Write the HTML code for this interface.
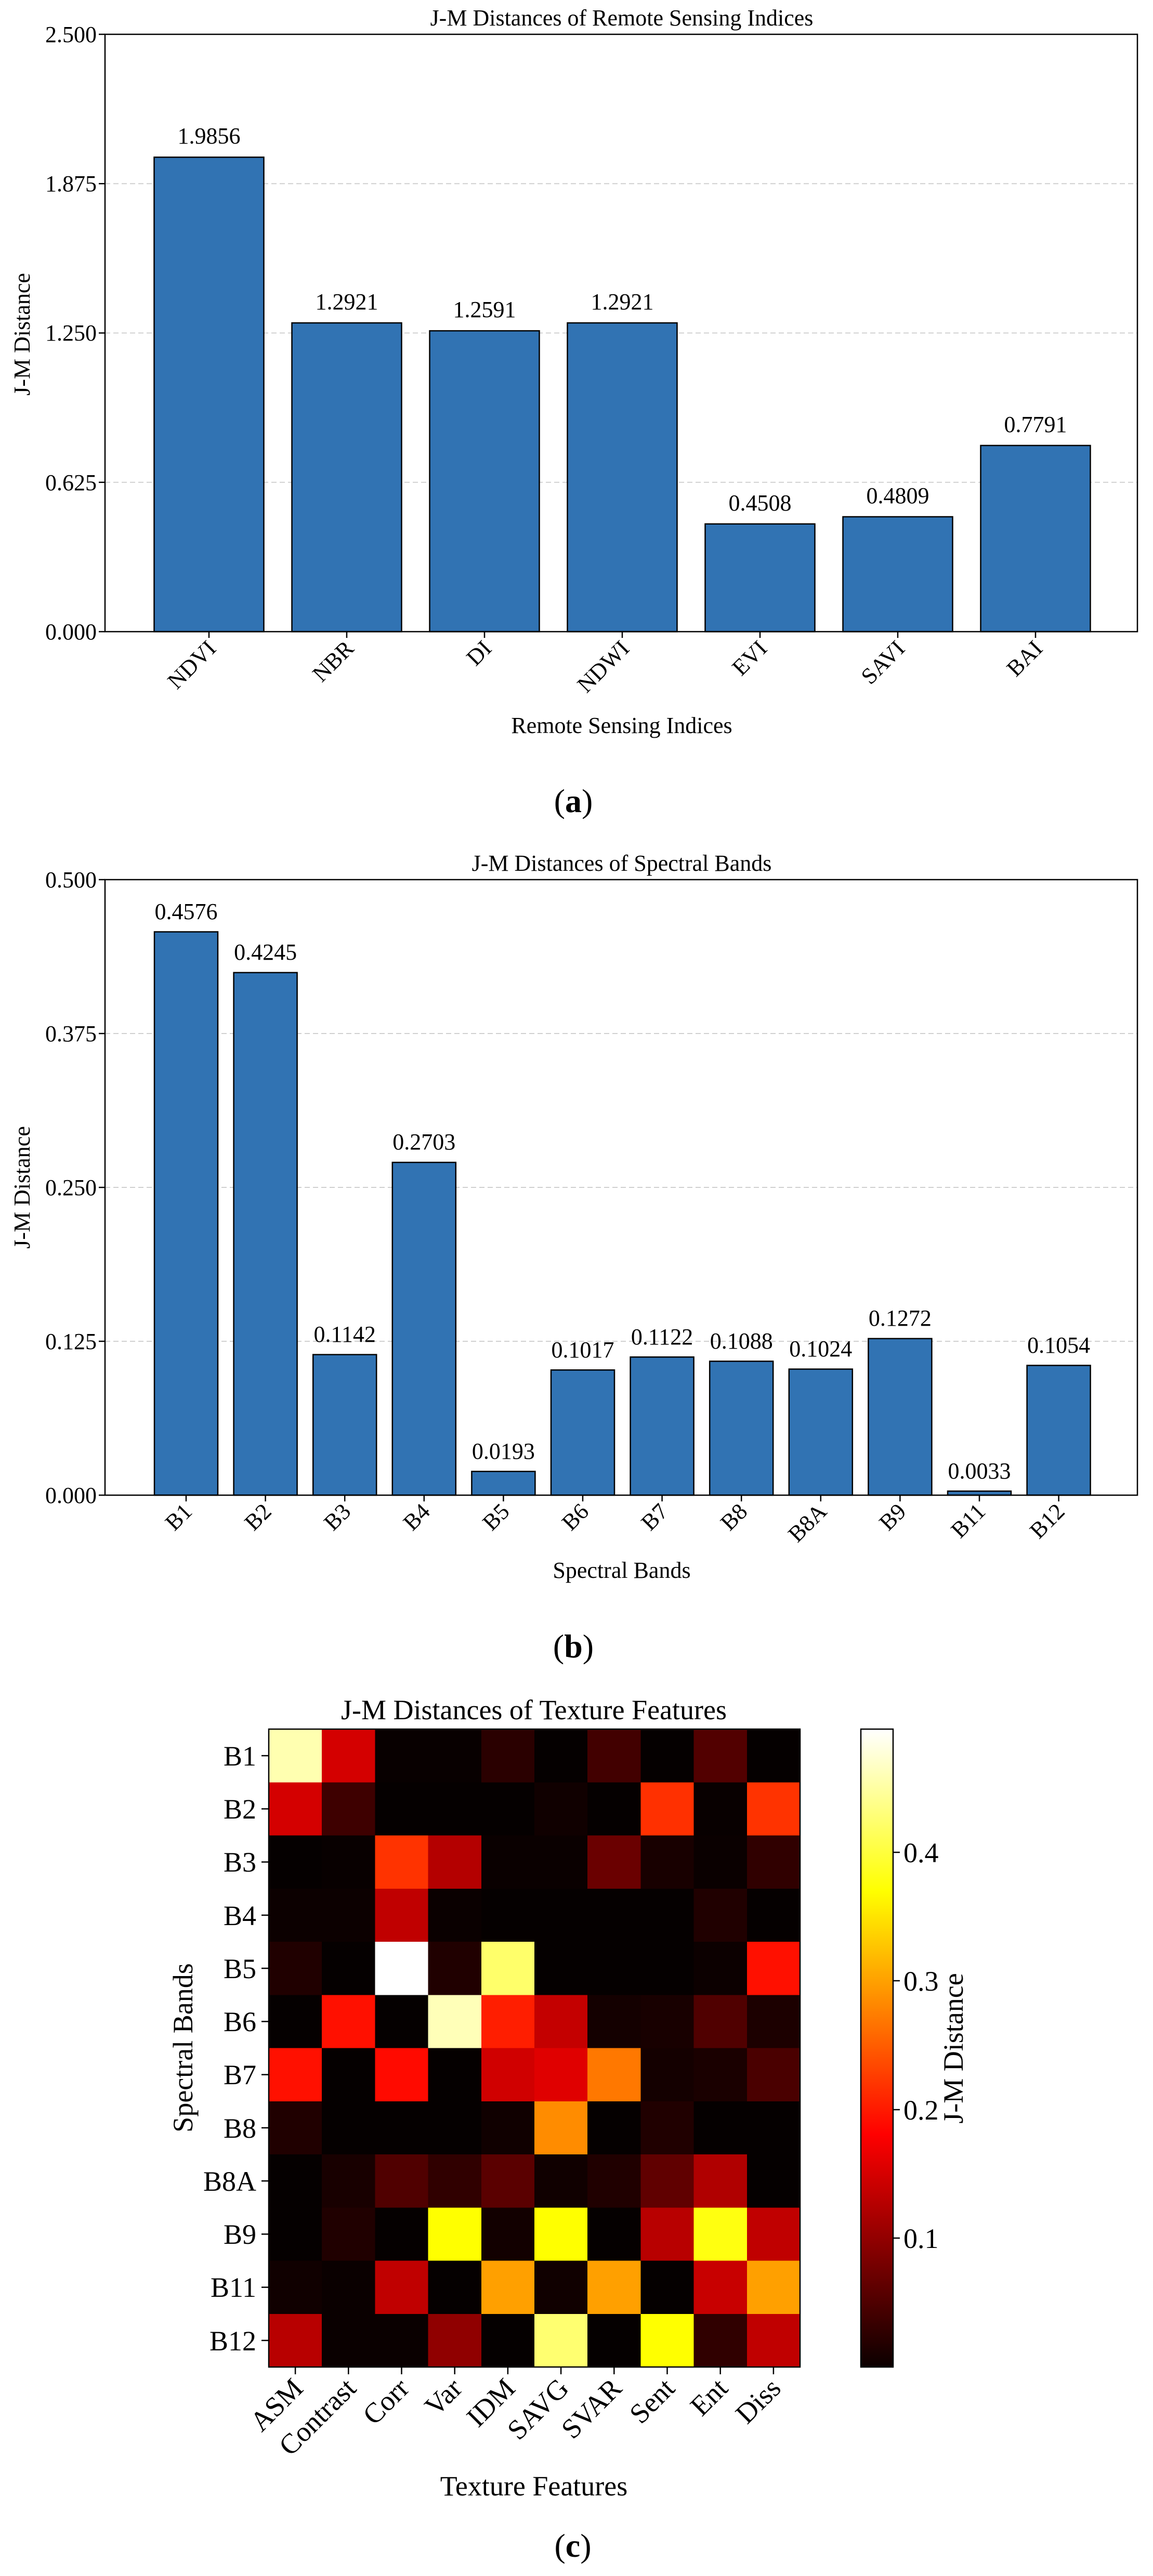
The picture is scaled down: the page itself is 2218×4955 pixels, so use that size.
<!DOCTYPE html>
<html><head><meta charset="utf-8"><style>
html,body{margin:0;padding:0;background:#fff;}
svg{display:block;font-family:"Liberation Serif",serif;}
</style></head><body>
<svg width="2218" height="4955" viewBox="0 0 2218 4955" xmlns="http://www.w3.org/2000/svg">
<rect width="2218" height="4955" fill="#fff"/>

<!-- ===== Chart (a) ===== -->
<g stroke="#d0d0d0" stroke-width="2" stroke-dasharray="10,6">
<line x1="202" y1="927.75" x2="2188" y2="927.75"/>
<line x1="202" y1="640.5" x2="2188" y2="640.5"/>
<line x1="202" y1="353.25" x2="2188" y2="353.25"/>
</g>
<g fill="#3173b3" stroke="#000" stroke-width="2.5">
<rect x="296.5" y="302.4" width="211" height="912.6"/>
<rect x="561.5" y="621.1" width="211" height="593.9"/>
<rect x="826.5" y="636.3" width="211" height="578.7"/>
<rect x="1091.5" y="621.1" width="211" height="593.9"/>
<rect x="1356.5" y="1007.8" width="211" height="207.2"/>
<rect x="1621.5" y="994" width="211" height="221"/>
<rect x="1886.5" y="856.9" width="211" height="358.1"/>
</g>
<rect x="202" y="66" width="1986" height="1149" fill="none" stroke="#000" stroke-width="2.5"/>
<g stroke="#000" stroke-width="2.5">
<line x1="190" y1="66" x2="202" y2="66"/><line x1="190" y1="353.25" x2="202" y2="353.25"/>
<line x1="190" y1="640.5" x2="202" y2="640.5"/><line x1="190" y1="927.75" x2="202" y2="927.75"/>
<line x1="190" y1="1215" x2="202" y2="1215"/>
<line x1="402" y1="1215" x2="402" y2="1227"/><line x1="667" y1="1215" x2="667" y2="1227"/>
<line x1="932" y1="1215" x2="932" y2="1227"/><line x1="1197" y1="1215" x2="1197" y2="1227"/>
<line x1="1462" y1="1215" x2="1462" y2="1227"/><line x1="1727" y1="1215" x2="1727" y2="1227"/>
<line x1="1992" y1="1215" x2="1992" y2="1227"/>
</g>
<g font-size="44" text-anchor="end">
<text x="186" y="81">2.500</text><text x="186" y="368">1.875</text>
<text x="186" y="655">1.250</text><text x="186" y="943">0.625</text>
<text x="186" y="1230">0.000</text>
</g>
<g font-size="44" text-anchor="middle">
<text x="402" y="276">1.9856</text><text x="667" y="595">1.2921</text>
<text x="932" y="610">1.2591</text><text x="1197" y="595">1.2921</text>
<text x="1462" y="982">0.4508</text><text x="1727" y="968">0.4809</text>
<text x="1992" y="831">0.7791</text>
<text x="1196" y="49">J-M Distances of Remote Sensing Indices</text>
<text x="1196" y="1410">Remote Sensing Indices</text>
</g>
<g font-size="44" text-anchor="end">
<text transform="translate(418,1250) rotate(-45)">NDVI</text>
<text transform="translate(683,1250) rotate(-45)">NBR</text>
<text transform="translate(948,1250) rotate(-45)">DI</text>
<text transform="translate(1213,1250) rotate(-45)">NDWI</text>
<text transform="translate(1478,1250) rotate(-45)">EVI</text>
<text transform="translate(1743,1250) rotate(-45)">SAVI</text>
<text transform="translate(2008,1250) rotate(-45)">BAI</text>
</g>
<text transform="translate(57,643) rotate(-90)" font-size="44" text-anchor="middle">J-M Distance</text>
<text x="1103" y="1562" font-size="64" text-anchor="middle"><tspan>(</tspan><tspan font-weight="bold">a</tspan><tspan>)</tspan></text>

<!-- ===== Chart (b) ===== -->
<g stroke="#d0d0d0" stroke-width="2" stroke-dasharray="10,6">
<line x1="202" y1="2580" x2="2188" y2="2580"/>
<line x1="202" y1="2284" x2="2188" y2="2284"/>
<line x1="202" y1="1988" x2="2188" y2="1988"/>
</g>
<g fill="#3173b3" stroke="#000" stroke-width="2.5">
<rect x="297" y="1792.4" width="122" height="1083.6"/>
<rect x="449.6" y="1870.8" width="122" height="1005.2"/>
<rect x="602.2" y="2605.6" width="122" height="270.4"/>
<rect x="754.8" y="2235.9" width="122" height="640.1"/>
<rect x="907.4" y="2830.3" width="122" height="45.7"/>
<rect x="1060" y="2635.2" width="122" height="240.8"/>
<rect x="1212.6" y="2610.3" width="122" height="265.7"/>
<rect x="1365.2" y="2618.4" width="122" height="257.6"/>
<rect x="1517.8" y="2633.5" width="122" height="242.5"/>
<rect x="1670.4" y="2574.8" width="122" height="301.2"/>
<rect x="1823" y="2868.2" width="122" height="7.8"/>
<rect x="1975.6" y="2626.4" width="122" height="249.6"/>
</g>
<rect x="202" y="1692" width="1986" height="1184" fill="none" stroke="#000" stroke-width="2.5"/>
<g stroke="#000" stroke-width="2.5">
<line x1="190" y1="1692" x2="202" y2="1692"/><line x1="190" y1="1988" x2="202" y2="1988"/>
<line x1="190" y1="2284" x2="202" y2="2284"/><line x1="190" y1="2580" x2="202" y2="2580"/>
<line x1="190" y1="2876" x2="202" y2="2876"/>
<line x1="358" y1="2876" x2="358" y2="2888"/><line x1="510.6" y1="2876" x2="510.6" y2="2888"/>
<line x1="663.2" y1="2876" x2="663.2" y2="2888"/><line x1="815.8" y1="2876" x2="815.8" y2="2888"/>
<line x1="968.4" y1="2876" x2="968.4" y2="2888"/><line x1="1121" y1="2876" x2="1121" y2="2888"/>
<line x1="1273.6" y1="2876" x2="1273.6" y2="2888"/><line x1="1426.2" y1="2876" x2="1426.2" y2="2888"/>
<line x1="1578.8" y1="2876" x2="1578.8" y2="2888"/><line x1="1731.4" y1="2876" x2="1731.4" y2="2888"/>
<line x1="1884" y1="2876" x2="1884" y2="2888"/><line x1="2036.6" y1="2876" x2="2036.6" y2="2888"/>
</g>
<g font-size="44" text-anchor="end">
<text x="186" y="1707">0.500</text><text x="186" y="2003">0.375</text>
<text x="186" y="2299">0.250</text><text x="186" y="2595">0.125</text>
<text x="186" y="2891">0.000</text>
</g>
<g font-size="44" text-anchor="middle">
<text x="358" y="1768">0.4576</text><text x="510.6" y="1846">0.4245</text>
<text x="663.2" y="2581">0.1142</text><text x="815.8" y="2211">0.2703</text>
<text x="968.4" y="2806">0.0193</text><text x="1121" y="2611">0.1017</text>
<text x="1273.6" y="2586">0.1122</text><text x="1426.2" y="2594">0.1088</text>
<text x="1578.8" y="2609">0.1024</text><text x="1731.4" y="2550">0.1272</text>
<text x="1884" y="2844">0.0033</text><text x="2036.6" y="2602">0.1054</text>
<text x="1196" y="1675">J-M Distances of Spectral Bands</text>
<text x="1196" y="3035">Spectral Bands</text>
</g>
<g font-size="44" text-anchor="end">
<text transform="translate(372,2910) rotate(-45)">B1</text>
<text transform="translate(524.6,2910) rotate(-45)">B2</text>
<text transform="translate(677.2,2910) rotate(-45)">B3</text>
<text transform="translate(829.8,2910) rotate(-45)">B4</text>
<text transform="translate(982.4,2910) rotate(-45)">B5</text>
<text transform="translate(1135,2910) rotate(-45)">B6</text>
<text transform="translate(1287.6,2910) rotate(-45)">B7</text>
<text transform="translate(1440.2,2910) rotate(-45)">B8</text>
<text transform="translate(1592.8,2910) rotate(-45)">B8A</text>
<text transform="translate(1745.4,2910) rotate(-45)">B9</text>
<text transform="translate(1898,2910) rotate(-45)">B11</text>
<text transform="translate(2050.6,2910) rotate(-45)">B12</text>
</g>
<text transform="translate(57,2284) rotate(-90)" font-size="44" text-anchor="middle">J-M Distance</text>
<text x="1103" y="3188" font-size="64" text-anchor="middle"><tspan>(</tspan><tspan font-weight="bold">b</tspan><tspan>)</tspan></text>

<!-- ===== Chart (c) heatmap ===== -->
<g shape-rendering="crispEdges">
<!-- B1 -->
<rect x="517" y="3326" width="103" height="103" fill="#ffffb0"/>
<rect x="619.2" y="3326" width="103" height="103" fill="#d40000"/>
<rect x="721.4" y="3326" width="103" height="103" fill="#080000"/>
<rect x="823.6" y="3326" width="103" height="103" fill="#080000"/>
<rect x="925.8" y="3326" width="103" height="103" fill="#2a0000"/>
<rect x="1028" y="3326" width="103" height="103" fill="#050000"/>
<rect x="1130.2" y="3326" width="103" height="103" fill="#420000"/>
<rect x="1232.4" y="3326" width="103" height="103" fill="#050000"/>
<rect x="1334.6" y="3326" width="103" height="103" fill="#520000"/>
<rect x="1436.8" y="3326" width="103" height="103" fill="#050000"/>
<!-- B2 -->
<rect x="517" y="3428.25" width="103" height="103" fill="#d40000"/>
<rect x="619.2" y="3428.25" width="103" height="103" fill="#3e0000"/>
<rect x="721.4" y="3428.25" width="103" height="103" fill="#050000"/>
<rect x="823.6" y="3428.25" width="103" height="103" fill="#050000"/>
<rect x="925.8" y="3428.25" width="103" height="103" fill="#050000"/>
<rect x="1028" y="3428.25" width="103" height="103" fill="#100000"/>
<rect x="1130.2" y="3428.25" width="103" height="103" fill="#050000"/>
<rect x="1232.4" y="3428.25" width="103" height="103" fill="#ff3000"/>
<rect x="1334.6" y="3428.25" width="103" height="103" fill="#080000"/>
<rect x="1436.8" y="3428.25" width="103" height="103" fill="#ff3300"/>
<!-- B3 -->
<rect x="517" y="3530.5" width="103" height="103" fill="#050000"/>
<rect x="619.2" y="3530.5" width="103" height="103" fill="#080000"/>
<rect x="721.4" y="3530.5" width="103" height="103" fill="#ff3300"/>
<rect x="823.6" y="3530.5" width="103" height="103" fill="#b40000"/>
<rect x="925.8" y="3530.5" width="103" height="103" fill="#0a0000"/>
<rect x="1028" y="3530.5" width="103" height="103" fill="#0a0000"/>
<rect x="1130.2" y="3530.5" width="103" height="103" fill="#6a0000"/>
<rect x="1232.4" y="3530.5" width="103" height="103" fill="#180000"/>
<rect x="1334.6" y="3530.5" width="103" height="103" fill="#0a0000"/>
<rect x="1436.8" y="3530.5" width="103" height="103" fill="#300000"/>
<!-- B4 -->
<rect x="517" y="3632.75" width="103" height="103" fill="#0c0000"/>
<rect x="619.2" y="3632.75" width="103" height="103" fill="#0c0000"/>
<rect x="721.4" y="3632.75" width="103" height="103" fill="#c00000"/>
<rect x="823.6" y="3632.75" width="103" height="103" fill="#0a0000"/>
<rect x="925.8" y="3632.75" width="103" height="103" fill="#050000"/>
<rect x="1028" y="3632.75" width="103" height="103" fill="#050000"/>
<rect x="1130.2" y="3632.75" width="103" height="103" fill="#050000"/>
<rect x="1232.4" y="3632.75" width="103" height="103" fill="#050000"/>
<rect x="1334.6" y="3632.75" width="103" height="103" fill="#200000"/>
<rect x="1436.8" y="3632.75" width="103" height="103" fill="#050000"/>
<!-- B5 -->
<rect x="517" y="3735" width="103" height="103" fill="#200000"/>
<rect x="619.2" y="3735" width="103" height="103" fill="#050000"/>
<rect x="721.4" y="3735" width="103" height="103" fill="#ffffff"/>
<rect x="823.6" y="3735" width="103" height="103" fill="#200000"/>
<rect x="925.8" y="3735" width="103" height="103" fill="#ffff6a"/>
<rect x="1028" y="3735" width="103" height="103" fill="#050000"/>
<rect x="1130.2" y="3735" width="103" height="103" fill="#050000"/>
<rect x="1232.4" y="3735" width="103" height="103" fill="#050000"/>
<rect x="1334.6" y="3735" width="103" height="103" fill="#0c0000"/>
<rect x="1436.8" y="3735" width="103" height="103" fill="#ff1000"/>
<!-- B6 -->
<rect x="517" y="3837.25" width="103" height="103" fill="#050000"/>
<rect x="619.2" y="3837.25" width="103" height="103" fill="#ff1000"/>
<rect x="721.4" y="3837.25" width="103" height="103" fill="#050000"/>
<rect x="823.6" y="3837.25" width="103" height="103" fill="#ffffb8"/>
<rect x="925.8" y="3837.25" width="103" height="103" fill="#ff1e00"/>
<rect x="1028" y="3837.25" width="103" height="103" fill="#c40000"/>
<rect x="1130.2" y="3837.25" width="103" height="103" fill="#140000"/>
<rect x="1232.4" y="3837.25" width="103" height="103" fill="#180000"/>
<rect x="1334.6" y="3837.25" width="103" height="103" fill="#500000"/>
<rect x="1436.8" y="3837.25" width="103" height="103" fill="#1c0000"/>
<!-- B7 -->
<rect x="517" y="3939.5" width="103" height="103" fill="#ff1000"/>
<rect x="619.2" y="3939.5" width="103" height="103" fill="#050000"/>
<rect x="721.4" y="3939.5" width="103" height="103" fill="#ff0a00"/>
<rect x="823.6" y="3939.5" width="103" height="103" fill="#050000"/>
<rect x="925.8" y="3939.5" width="103" height="103" fill="#d00000"/>
<rect x="1028" y="3939.5" width="103" height="103" fill="#e00000"/>
<rect x="1130.2" y="3939.5" width="103" height="103" fill="#ff7800"/>
<rect x="1232.4" y="3939.5" width="103" height="103" fill="#140000"/>
<rect x="1334.6" y="3939.5" width="103" height="103" fill="#1a0000"/>
<rect x="1436.8" y="3939.5" width="103" height="103" fill="#4a0000"/>
<!-- B8 -->
<rect x="517" y="4041.75" width="103" height="103" fill="#200000"/>
<rect x="619.2" y="4041.75" width="103" height="103" fill="#050000"/>
<rect x="721.4" y="4041.75" width="103" height="103" fill="#050000"/>
<rect x="823.6" y="4041.75" width="103" height="103" fill="#050000"/>
<rect x="925.8" y="4041.75" width="103" height="103" fill="#100000"/>
<rect x="1028" y="4041.75" width="103" height="103" fill="#ff8c00"/>
<rect x="1130.2" y="4041.75" width="103" height="103" fill="#050000"/>
<rect x="1232.4" y="4041.75" width="103" height="103" fill="#200000"/>
<rect x="1334.6" y="4041.75" width="103" height="103" fill="#050000"/>
<rect x="1436.8" y="4041.75" width="103" height="103" fill="#050000"/>
<!-- B8A -->
<rect x="517" y="4144" width="103" height="103" fill="#050000"/>
<rect x="619.2" y="4144" width="103" height="103" fill="#180000"/>
<rect x="721.4" y="4144" width="103" height="103" fill="#500000"/>
<rect x="823.6" y="4144" width="103" height="103" fill="#300000"/>
<rect x="925.8" y="4144" width="103" height="103" fill="#5a0000"/>
<rect x="1028" y="4144" width="103" height="103" fill="#100000"/>
<rect x="1130.2" y="4144" width="103" height="103" fill="#200000"/>
<rect x="1232.4" y="4144" width="103" height="103" fill="#600000"/>
<rect x="1334.6" y="4144" width="103" height="103" fill="#b00000"/>
<rect x="1436.8" y="4144" width="103" height="103" fill="#050000"/>
<!-- B9 -->
<rect x="517" y="4246.25" width="103" height="103" fill="#050000"/>
<rect x="619.2" y="4246.25" width="103" height="103" fill="#200000"/>
<rect x="721.4" y="4246.25" width="103" height="103" fill="#050000"/>
<rect x="823.6" y="4246.25" width="103" height="103" fill="#ffff00"/>
<rect x="925.8" y="4246.25" width="103" height="103" fill="#120000"/>
<rect x="1028" y="4246.25" width="103" height="103" fill="#ffff00"/>
<rect x="1130.2" y="4246.25" width="103" height="103" fill="#050000"/>
<rect x="1232.4" y="4246.25" width="103" height="103" fill="#b80000"/>
<rect x="1334.6" y="4246.25" width="103" height="103" fill="#ffff10"/>
<rect x="1436.8" y="4246.25" width="103" height="103" fill="#c00000"/>
<!-- B11 -->
<rect x="517" y="4348.5" width="103" height="103" fill="#100000"/>
<rect x="619.2" y="4348.5" width="103" height="103" fill="#0a0000"/>
<rect x="721.4" y="4348.5" width="103" height="103" fill="#c00000"/>
<rect x="823.6" y="4348.5" width="103" height="103" fill="#050000"/>
<rect x="925.8" y="4348.5" width="103" height="103" fill="#ffa000"/>
<rect x="1028" y="4348.5" width="103" height="103" fill="#100000"/>
<rect x="1130.2" y="4348.5" width="103" height="103" fill="#ffa000"/>
<rect x="1232.4" y="4348.5" width="103" height="103" fill="#050000"/>
<rect x="1334.6" y="4348.5" width="103" height="103" fill="#c80000"/>
<rect x="1436.8" y="4348.5" width="103" height="103" fill="#ffa000"/>
<!-- B12 -->
<rect x="517" y="4450.75" width="103" height="102.25" fill="#b80000"/>
<rect x="619.2" y="4450.75" width="103" height="102.25" fill="#0a0000"/>
<rect x="721.4" y="4450.75" width="103" height="102.25" fill="#0a0000"/>
<rect x="823.6" y="4450.75" width="103" height="102.25" fill="#900000"/>
<rect x="925.8" y="4450.75" width="103" height="102.25" fill="#050000"/>
<rect x="1028" y="4450.75" width="103" height="102.25" fill="#ffff70"/>
<rect x="1130.2" y="4450.75" width="103" height="102.25" fill="#050000"/>
<rect x="1232.4" y="4450.75" width="103" height="102.25" fill="#ffff00"/>
<rect x="1334.6" y="4450.75" width="103" height="102.25" fill="#300000"/>
<rect x="1436.8" y="4450.75" width="102.2" height="102.25" fill="#c00000"/>
</g>
<rect x="517" y="3326" width="1022" height="1227" fill="none" stroke="#000" stroke-width="2.5"/>
<g stroke="#000" stroke-width="2.5">
<line x1="503" y1="3377.1" x2="517" y2="3377.1"/><line x1="503" y1="3479.4" x2="517" y2="3479.4"/>
<line x1="503" y1="3581.6" x2="517" y2="3581.6"/><line x1="503" y1="3683.9" x2="517" y2="3683.9"/>
<line x1="503" y1="3786.1" x2="517" y2="3786.1"/><line x1="503" y1="3888.4" x2="517" y2="3888.4"/>
<line x1="503" y1="3990.6" x2="517" y2="3990.6"/><line x1="503" y1="4092.9" x2="517" y2="4092.9"/>
<line x1="503" y1="4195.1" x2="517" y2="4195.1"/><line x1="503" y1="4297.4" x2="517" y2="4297.4"/>
<line x1="503" y1="4399.6" x2="517" y2="4399.6"/><line x1="503" y1="4501.9" x2="517" y2="4501.9"/>
<line x1="568.1" y1="4553" x2="568.1" y2="4567"/><line x1="670.3" y1="4553" x2="670.3" y2="4567"/>
<line x1="772.5" y1="4553" x2="772.5" y2="4567"/><line x1="874.7" y1="4553" x2="874.7" y2="4567"/>
<line x1="976.9" y1="4553" x2="976.9" y2="4567"/><line x1="1079.1" y1="4553" x2="1079.1" y2="4567"/>
<line x1="1181.3" y1="4553" x2="1181.3" y2="4567"/><line x1="1283.5" y1="4553" x2="1283.5" y2="4567"/>
<line x1="1385.7" y1="4553" x2="1385.7" y2="4567"/><line x1="1487.9" y1="4553" x2="1487.9" y2="4567"/>
</g>
<g font-size="54" text-anchor="end">
<text x="493" y="3396">B1</text><text x="493" y="3498">B2</text>
<text x="493" y="3600">B3</text><text x="493" y="3703">B4</text>
<text x="493" y="3805">B5</text><text x="493" y="3907">B6</text>
<text x="493" y="4009">B7</text><text x="493" y="4112">B8</text>
<text x="493" y="4214">B8A</text><text x="493" y="4316">B9</text>
<text x="493" y="4418">B11</text><text x="493" y="4521">B12</text>
</g>
<g font-size="54" text-anchor="end">
<text transform="translate(586,4597) rotate(-45)">ASM</text>
<text transform="translate(688,4597) rotate(-45)">Contrast</text>
<text transform="translate(790,4597) rotate(-45)">Corr</text>
<text transform="translate(892,4597) rotate(-45)">Var</text>
<text transform="translate(994,4597) rotate(-45)">IDM</text>
<text transform="translate(1097,4597) rotate(-45)">SAVG</text>
<text transform="translate(1199,4597) rotate(-45)">SVAR</text>
<text transform="translate(1301,4597) rotate(-45)">Sent</text>
<text transform="translate(1403,4597) rotate(-45)">Ent</text>
<text transform="translate(1505,4597) rotate(-45)">Diss</text>
</g>
<g font-size="54" text-anchor="middle">
<text x="1027" y="3307">J-M Distances of Texture Features</text>
<text x="1027" y="4800">Texture Features</text>
</g>
<text transform="translate(370,3939) rotate(-90)" font-size="54" text-anchor="middle">Spectral Bands</text>

<!-- colorbar -->
<defs>
<linearGradient id="hot" x1="0" y1="1" x2="0" y2="0">
<stop offset="0" stop-color="#0b0000"/>
<stop offset="0.365" stop-color="#ff0000"/>
<stop offset="0.746" stop-color="#ffff00"/>
<stop offset="1" stop-color="#ffffff"/>
</linearGradient>
</defs>
<rect x="1656" y="3326" width="62" height="1227" fill="url(#hot)" stroke="#000" stroke-width="2.5"/>
<g stroke="#000" stroke-width="2.5">
<line x1="1718" y1="3563" x2="1731" y2="3563"/><line x1="1718" y1="3810" x2="1731" y2="3810"/>
<line x1="1718" y1="4058" x2="1731" y2="4058"/><line x1="1718" y1="4305" x2="1731" y2="4305"/>
</g>
<g font-size="54">
<text x="1738" y="3582">0.4</text><text x="1738" y="3829">0.3</text>
<text x="1738" y="4077">0.2</text><text x="1738" y="4324">0.1</text>
</g>
<text transform="translate(1852,3940) rotate(-90)" font-size="54" text-anchor="middle">J-M Distance</text>
<text x="1102" y="4918" font-size="64" text-anchor="middle"><tspan>(</tspan><tspan font-weight="bold">c</tspan><tspan>)</tspan></text>
</svg>
</body></html>
